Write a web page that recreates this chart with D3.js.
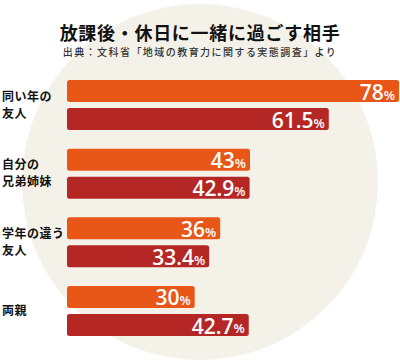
<!DOCTYPE html>
<html>
<head>
<meta charset="utf-8">
<script src="https://cdn.jsdelivr.net/npm/d3@7"></script>
<style>
  html, body { margin: 0; padding: 0; background: #fff; }
  svg { display: block; }
</style>
</head>
<body>
<svg id="chart"></svg>
<script>
const categories = ['同い年の友人', '自分の兄弟姉妹', '学年の違う友人', '両親']
const categoryLines = [['同い年の', '友人'], ['自分の', '兄弟姉妹'], ['学年の違う', '友人'], ['両親']]
const seriesNames = ['a', 'b']
const seriesA = [78, 43, 36, 30]
const seriesB = [61.5, 42.9, 33.4, 42.7]
const labelsA = ['78', '43', '36', '30']
const labelsB = ['61.5', '42.9', '33.4', '42.7']

const width = 400
const height = 361
const colors = { a: '#e85618', b: '#b42725' }

const svg = d3.select('#chart')
  .attr('width', width)
  .attr('height', height)

// background circle
svg.append('circle')
  .attr('cx', 200)
  .attr('cy', 182)
  .attr('r', 178)
  .attr('fill', '#f4f1e9')

svg.append('text')
  .attr('x', 200)
  .attr('y', 40)
  .attr('text-anchor', 'middle')
  .attr('font-family', '"Noto Sans CJK JP", sans-serif')
  .attr('font-weight', 700)
  .attr('font-size', 18)
  .attr('letter-spacing', 0.7)
  .attr('fill', '#111')
  .text('放課後・休日に一緒に過ごす相手')

svg.append('text')
  .attr('x', 200)
  .attr('y', 56)
  .attr('text-anchor', 'middle')
  .attr('font-family', '"Noto Sans CJK JP", sans-serif')
  .attr('font-weight', 500)
  .attr('font-size', 10)
  .attr('letter-spacing', 1.45)
  .attr('fill', '#333')
  .text('出典：文科省「地域の教育力に関する実態調査」より')

const x = d3.scaleLinear()
  .domain([0, 78])
  .range([67, 399])

const y0 = d3.scaleBand()
  .domain(categories)
  .range([80, 336])
  .paddingInner(0.27)

const y1 = d3.scaleBand()
  .domain(seriesNames)
  .range([0, y0.bandwidth()])
  .paddingInner(0.214)

const data = categories.map((c, i) => ({
  cat: c,
  lines: categoryLines[i],
  values: [
    { key: 'a', value: seriesA[i], label: labelsA[i] },
    { key: 'b', value: seriesB[i], label: labelsB[i] }
  ]
}))

const groups = svg.append('g')
  .selectAll('g')
  .data(data)
  .join('g')
  .attr('transform', d => `translate(0,${y0(d.cat)})`)

// category labels
groups.append('text')
  .attr('font-family', '"Noto Sans CJK JP", sans-serif')
  .attr('font-weight', 700)
  .attr('font-size', 12)
  .attr('letter-spacing', 0.5)
  .attr('fill', '#111')
  .selectAll('tspan')
  .data(d => d.lines.map((l, i) => ({ l, i, n: d.lines.length })))
  .join('tspan')
  .attr('x', 2)
  .attr('y', d => y0.bandwidth() / 2 + (d.i - (d.n - 1) / 2) * 17)
  .attr('dy', '0.36em')
  .text(d => d.l)

const bars = groups.selectAll('g.bar')
  .data(d => d.values)
  .join('g')
  .attr('class', 'bar')
  .attr('transform', d => `translate(0,${y1(d.key)})`)

bars.append('rect')
  .attr('x', x(0))
  .attr('y', 0)
  .attr('width', d => x(d.value) - x(0))
  .attr('height', y1.bandwidth())
  .attr('rx', 2.5)
  .attr('fill', d => colors[d.key])

const valText = bars.append('text')
  .attr('x', d => x(d.value) - 4)
  .attr('y', y1.bandwidth() - 2.5)
  .attr('text-anchor', 'end')
  .attr('font-family', '"Open Sans", sans-serif')
  .attr('font-weight', 600)
  .attr('fill', '#fff')

valText.append('tspan')
  .attr('font-size', 21)
  .text(d => d.label)

valText.append('tspan')
  .attr('font-size', 13)
  .text('%')
</script>
</body>
</html>
